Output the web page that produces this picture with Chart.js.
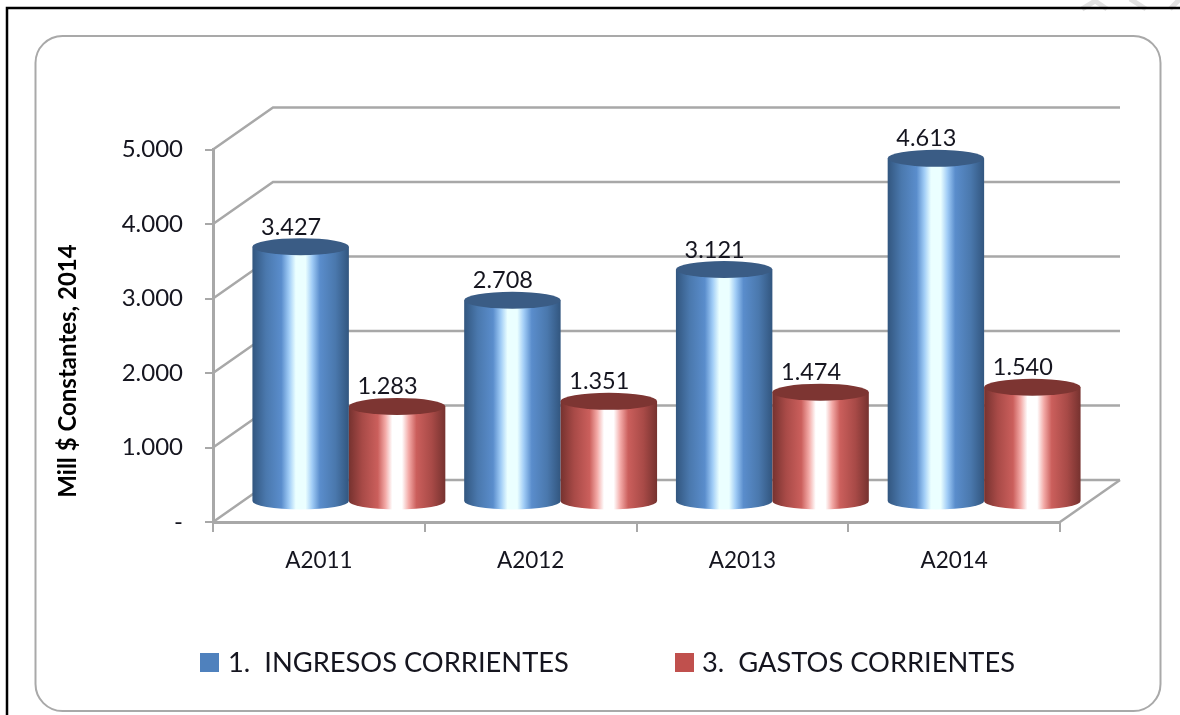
<!DOCTYPE html>
<html>
<head>
<meta charset="utf-8">
<style>
  html, body { margin: 0; padding: 0; background: #fff; }
  #wrap { position: relative; width: 1180px; height: 715px; overflow: hidden; }
  #legend span { position: absolute; white-space: pre; font: 27.3px Lato, sans-serif; color: #15151f; line-height: 32px; top: 646px; }
  #legend i { position: absolute; width: 19px; height: 19px; top: 653px; }
</style>
<script src="https://cdn.jsdelivr.net/npm/chart.js@4"></script>
</head>
<body>
<div id="wrap">
  <canvas id="bar-chart" width="1180" height="715"></canvas>
  <div id="legend"></div>
</div>
<script>
const categories = ["A2011", "A2012", "A2013", "A2014"];
const ingresos = [3427, 2708, 3121, 4613];
const gastos = [1283, 1351, 1474, 1540];
const seriesNames = ["1.  INGRESOS CORRIENTES", "3.  GASTOS CORRIENTES"];
const seriesColors = ["#4f81bd", "#c0504d"];
const yTickLabels = ["-", "1.000", "2.000", "3.000", "4.000", "5.000"];
const axisTitle = "Mill $ Constantes, 2014";

const GRAY = "#a8a8a8";
const DEPTH_X = 60;
const DEPTH_Y = 42;
const TEXT = "#15151f";

const shades = [
  { edge: "#32567f", mid: "#4a78ad", main: "#5a8dcc", soft: "#a0ccf6", glow: "#ebffff", top: "#3a5c85" },
  { edge: "#76322f", mid: "#a84a47", main: "#cb5f5c", soft: "#f3aaa7", glow: "#ffffff", top: "#7d3532" },
];

function formatValue(v) {
  return v.toLocaleString("de-DE");
}

// frame around the picture, it belongs to the screenshot and not to the data
const framePlugin = {
  id: "frame",
  beforeDraw(chart) {
    const ctx = chart.ctx;
    ctx.save();
    ctx.strokeStyle = "#e2e2e2";
    ctx.lineWidth = 5;
    ctx.beginPath();
    ctx.moveTo(1082, 9); ctx.lineTo(1095, 1); ctx.lineTo(1107, 9);
    ctx.moveTo(1130, -1); ctx.lineTo(1146, 9);
    ctx.moveTo(1180, -1); ctx.lineTo(1170, 9);
    ctx.stroke();
    ctx.strokeStyle = "#000";
    ctx.lineWidth = 2.5;
    ctx.beginPath();
    ctx.moveTo(7, 715); ctx.lineTo(7, 8); ctx.lineTo(1180, 8);
    ctx.stroke();
    ctx.strokeStyle = "#a9a9a9";
    ctx.lineWidth = 2;
    ctx.beginPath();
    ctx.roundRect(35.5, 36, 1125, 675, 27);
    ctx.stroke();
    ctx.restore();
  },
};

// back wall, side wall and floor of the 3D box
const wallsPlugin = {
  id: "walls",
  beforeDatasetsDraw(chart) {
    const ctx = chart.ctx;
    const y = chart.scales.y;
    const { left, right, bottom } = chart.chartArea;
    ctx.save();
    ctx.strokeStyle = GRAY;
    ctx.lineWidth = 2.5;
    y.ticks.forEach((t) => {
      const py = y.getPixelForValue(t.value);
      ctx.beginPath();
      ctx.moveTo(left, py);
      ctx.lineTo(left + DEPTH_X, py - DEPTH_Y);
      ctx.lineTo(right + DEPTH_X, py - DEPTH_Y);
      ctx.stroke();
    });
    ctx.beginPath();
    ctx.moveTo(right, bottom);
    ctx.lineTo(right + DEPTH_X, bottom - DEPTH_Y);
    ctx.stroke();
    ctx.restore();
  },
};

// cylinders are drawn from the bar elements the library has laid out
const cylinderPlugin = {
  id: "cylinders",
  beforeDatasetsDraw(chart) {
    const ctx = chart.ctx;
    chart.data.datasets.forEach((ds, i) => {
      const shade = shades[i];
      chart.getDatasetMeta(i).data.forEach((bar, j) => {
        const cx = bar.x + 30;
        const topY = bar.y - 20;
        const baseY = bar.base - 20;
        const rx = bar.width / 2;
        const ry = 8.5;
        const g = ctx.createLinearGradient(cx - rx, 0, cx + rx, 0);
        g.addColorStop(0, shade.edge);
        g.addColorStop(0.14, shade.mid);
        g.addColorStop(0.3, shade.main);
        g.addColorStop(0.38, shade.soft);
        g.addColorStop(0.45, shade.glow);
        g.addColorStop(0.55, shade.glow);
        g.addColorStop(0.62, shade.soft);
        g.addColorStop(0.7, shade.main);
        g.addColorStop(0.86, shade.mid);
        g.addColorStop(1, shade.edge);
        ctx.save();
        ctx.fillStyle = g;
        ctx.beginPath();
        ctx.moveTo(cx - rx, topY);
        ctx.lineTo(cx - rx, baseY);
        ctx.ellipse(cx, baseY, rx, ry, 0, Math.PI, 0, true);
        ctx.lineTo(cx + rx, topY);
        ctx.closePath();
        ctx.fill();
        ctx.fillStyle = shade.top;
        ctx.beginPath();
        ctx.ellipse(cx, topY, rx, ry, 0, 0, Math.PI * 2);
        ctx.fill();
        ctx.fillStyle = TEXT;
        ctx.font = "23.5px Lato, sans-serif";
        ctx.textAlign = "center";
        ctx.textBaseline = "middle";
        ctx.fillText(formatValue(ds.data[j]), cx - 9.5, topY - 19.5);
        ctx.restore();
      });
    });
    return false;
  },
};

const axisTitlePlugin = {
  id: "axisTitleText",
  afterDraw(chart) {
    const ctx = chart.ctx;
    ctx.save();
    ctx.translate(68, 371);
    ctx.rotate(-Math.PI / 2);
    ctx.fillStyle = "#000";
    ctx.font = "bold 24px Lato, sans-serif";
    ctx.textAlign = "center";
    ctx.textBaseline = "middle";
    ctx.fillText(axisTitle, 0, 0);
    ctx.restore();
  },
};

const chart = new Chart(document.getElementById("bar-chart"), {
  type: "bar",
  data: {
    labels: categories,
    datasets: [
      { label: seriesNames[0], data: ingresos, backgroundColor: seriesColors[0] },
      { label: seriesNames[1], data: gastos, backgroundColor: seriesColors[1] },
    ],
  },
  options: {
    responsive: false,
    animation: false,
    barPercentage: 1,
    categoryPercentage: 0.911,
    layout: { padding: { top: 149.5, right: 120, bottom: 0, left: 0 } },
    plugins: {
      legend: { display: false },
      tooltip: { enabled: false },
    },
    scales: {
      x: {
        afterFit: (s) => { s.height = 193; },
        border: { color: GRAY, width: 3 },
        grid: { color: GRAY, lineWidth: 2, drawOnChartArea: false, tickLength: 10 },
        ticks: { color: TEXT, padding: 15, maxRotation: 0, font: { family: "Lato, sans-serif", size: 22.5 } },
      },
      y: {
        min: 0,
        max: 5000,
        afterFit: (s) => { s.width = 213; },
        border: { color: GRAY, width: 3 },
        grid: { color: GRAY, lineWidth: 2, drawOnChartArea: false, tickLength: 8 },
        ticks: {
          stepSize: 1000,
          padding: 22,
          color: TEXT,
          font: { family: "Lato, sans-serif", size: 24 },
          callback: (v) => yTickLabels[v / 1000],
        },
      },
    },
  },
  plugins: [framePlugin, wallsPlugin, cylinderPlugin, axisTitlePlugin],
});

// legend is plain html so the swatches can sit where they do in the picture
const legend = document.getElementById("legend");
[[200, 228], [675, 702]].forEach(([boxX, textX], i) => {
  const box = document.createElement("i");
  box.style.left = boxX + "px";
  box.style.background = seriesColors[i];
  const label = document.createElement("span");
  label.style.left = textX + "px";
  label.textContent = chart.data.datasets[i].label;
  legend.append(box, label);
});
</script>
</body>
</html>
